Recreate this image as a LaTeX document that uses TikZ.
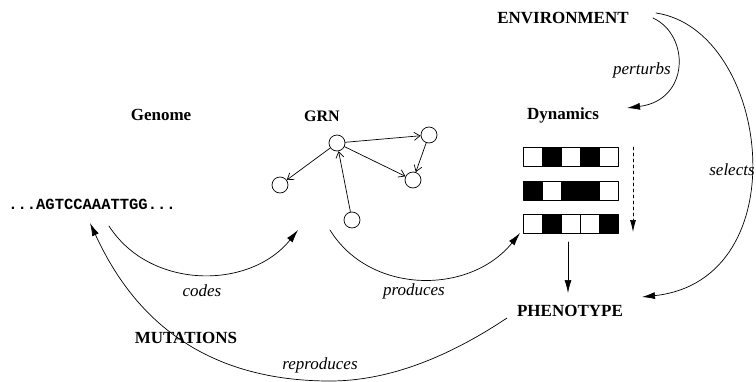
\documentclass[tikz,border=0pt]{standalone}
\usepackage{fontspec}
\setmainfont{Liberation Serif}
\setmonofont{Liberation Mono}
\usetikzlibrary{arrows.meta}

\begin{document}
\begin{tikzpicture}[line cap=round,line join=round,x=1pt,y=-1pt,line width=0.7pt,
  title/.style={font=\fontsize{17}{20}\selectfont\bfseries,inner sep=0pt},
  verb/.style={font=\fontsize{17}{20}\selectfont\itshape,inner sep=0pt},
  gene/.style={circle,draw,minimum size=16pt,inner sep=0pt},
  link/.style={-{Straight Barb[length=6pt,width=8pt]}},
  flow/.style={-{Latex[length=13pt,width=7pt]}}]

\def\cw{19} %cell width
\def\chh{19} %cell height

\useasboundingbox (0,0) rectangle (756,381);

%labels
\node[title] (genome) at (161,115) {Genome};
\node[title,font=\fontsize{16}{19}\selectfont\bfseries] (grn) at (322,116) {GRN};
\node[title] (dyn) at (563,115) {Dynamics};
\node[title] (env) at (563,18) {ENVIRONMENT};
\node[title] (pheno) at (570,311) {PHENOTYPE};
\node[title] (mut) at (186,338) {MUTATIONS};
\node[font=\fontsize{15.5}{18}\selectfont\ttfamily\bfseries,inner sep=0pt] (seq) at (92,204) {...AGTCCAAATTGG...};

%network
\node[gene] (hub) at (337,143) {};
\node[gene] (g1) at (429,135) {};
\node[gene] (g2) at (280,185) {};
\node[gene] (g3) at (413,180) {};
\node[gene] (g4) at (352,220) {};
\draw[link] (hub) -- (g1);
\draw[link] (hub) -- (g2);
\draw[link] (hub) -- (g3);
\draw[link] (g1) -- (g3);
\draw[link] (g4) -- (hub);

%dynamics
\foreach \row/\pat in {147/{0,100,0,100,0},181/{100,0,100,100,0},214/{0,100,0,0,100}}
  \foreach \c [count=\i from 0] in \pat
    \draw[fill=black!\c] (523+\i*\cw,\row) rectangle ++(\cw,\chh);
\coordinate (t0) at (633,147);
\coordinate (t1) at (633,232);
\draw[dashed,-{Latex[length=12pt,width=6pt]}] (t0) -- (t1);
\coordinate (d3) at (568,242);
\coordinate (p0) at (568,293);
\draw[-{Latex[length=13pt,width=7pt]}] (d3) -- (p0);

%free ends of the arcs
\coordinate (c0) at (109,226);
\coordinate (c1) at (298,230);
\coordinate (r0) at (330,230);
\coordinate (r1) at (520,233);
\coordinate (e0) at (653,18);
\coordinate (e1) at (627,108);
\coordinate (s0) at (656,13);
\coordinate (s1) at (642,297);
\coordinate (m0) at (507,318);
\coordinate (m1) at (330,381);
\coordinate (m2) at (90,223);

%arcs
\draw[flow] (c0) .. controls (150,290) and (250,290) .. (c1);
\draw[flow] (r0) .. controls (370,295) and (470,295) .. (r1);
\draw[flow] (e0) .. controls (690,35) and (690,100) .. (e1);
\draw[flow] (s0) .. controls (770,30) and (800,280) .. (s1);
\draw[flow] (m0) .. controls (450,356) and (390,381) .. (m1)
  .. controls (180,381) and (122,292) .. (m2);

%verbs
\node[verb] (codes) at (202,291) {codes};
\node[verb] (prod) at (414,291) {produces};
\node[verb] (repr) at (320,365) {reproduces};
\node[verb] (pert) at (642,70) {perturbs};
\node[verb,anchor=east] (sel) at (755,170) {selects};
\end{tikzpicture}
\end{document}
